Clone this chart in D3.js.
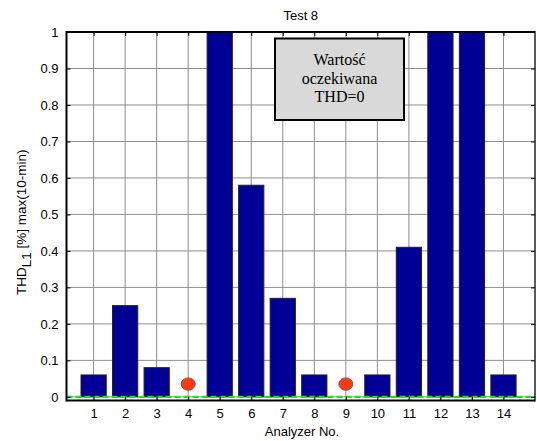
<!DOCTYPE html>
<html>
<head>
<meta charset="utf-8">
<script src="https://cdn.jsdelivr.net/npm/d3@7"></script>
<style>
  html, body { margin: 0; padding: 0; background: #fff; }
  svg { display: block; }
  text { font-family: "Liberation Sans", Arial, sans-serif; fill: #000; }
</style>
</head>
<body>
<svg id="chart" width="537" height="441"></svg>
<script>
// Analyzer numbers and the max 10-min THD (%) each one reported
const analyzers = [1, 2, 3, 4, 5, 6, 7, 8, 9, 10, 11, 12, 13, 14];
const thdValues = [0.06, 0.25, 0.08, null, 1.4, 0.58, 0.27, 0.06, null, 0.06, 0.41, 1.6, 1.3, 0.06];
// Analyzers that reported no result (marked with a dot)
const missingAnalyzers = [4, 9];
const missingMarkerValue = [0.035, 0.035];
// Expected value line
const expectedThd = 0;
const yTicks = [0, 0.1, 0.2, 0.3, 0.4, 0.5, 0.6, 0.7, 0.8, 0.9, 1];
const noteLines = ["Wartość", "oczekiwana", "THD=0"];

const svg = d3.select("#chart");
const pLeft = 66.5, pRight = 535, pTop = 32, pBottom = 400.5;

const x = d3.scaleLinear().domain([0.14, 15]).range([pLeft, pRight]);
const y = d3.scaleLinear().domain([-0.01, 1]).range([pBottom, pTop]);
const barW = x(0.8) - x(0);

const defs = svg.append("defs");
defs.append("clipPath").attr("id", "plotClip")
  .append("rect").attr("x", pLeft).attr("y", pTop).attr("width", pRight - pLeft).attr("height", pBottom - pTop);
defs.append("filter").attr("id", "soft").append("feGaussianBlur").attr("stdDeviation", 0.6);

// grid
const grid = svg.append("g");
grid.selectAll("line.gx").data(analyzers).join("line")
  .attr("x1", d => x(d)).attr("x2", d => x(d)).attr("y1", pTop).attr("y2", pBottom)
  .attr("stroke", "#8f8f8f").attr("stroke-width", 1);
grid.selectAll("line.gy").data(yTicks).join("line")
  .attr("x1", pLeft).attr("x2", pRight).attr("y1", d => y(d)).attr("y2", d => y(d))
  .attr("stroke", "#8f8f8f").attr("stroke-width", 1);

// bars
const plot = svg.append("g").attr("clip-path", "url(#plotClip)");
const barData = analyzers.map((a, i) => ({ a, v: thdValues[i] })).filter(d => d.v !== null);
plot.selectAll("rect.bar").data(barData).join("rect")
  .attr("class", "bar")
  .attr("x", d => x(d.a) - barW / 2)
  .attr("width", barW)
  .attr("y", d => y(d.v))
  .attr("height", d => y(0) - y(d.v))
  .attr("fill", "#000096")
  .attr("stroke", "#222")
  .attr("stroke-width", 1);

// expected value line
plot.append("line")
  .attr("x1", pLeft).attr("x2", pRight)
  .attr("y1", y(expectedThd)).attr("y2", y(expectedThd))
  .attr("stroke", "#19e619").attr("stroke-width", 2.2)
  .attr("stroke-dasharray", "6,3");

// markers for analyzers without a result
plot.selectAll("ellipse.miss").data(missingAnalyzers).join("ellipse")
  .attr("cx", d => x(d)).attr("cy", (d, i) => y(missingMarkerValue[i]))
  .attr("rx", 7).attr("ry", 6.2)
  .attr("fill", "#ff3a0a").attr("stroke", "#8a4a6a").attr("stroke-width", 1)
  .attr("filter", "url(#soft)");

// axes frame
const frame = svg.append("g");
frame.append("line").attr("x1", pLeft).attr("x2", pRight).attr("y1", pTop).attr("y2", pTop)
  .attr("stroke", "#000").attr("stroke-width", 2);
frame.append("line").attr("x1", pLeft).attr("x2", pRight).attr("y1", pBottom).attr("y2", pBottom)
  .attr("stroke", "#000").attr("stroke-width", 2);
frame.append("line").attr("x1", pLeft).attr("x2", pLeft).attr("y1", pTop - 1).attr("y2", pBottom + 1)
  .attr("stroke", "#000").attr("stroke-width", 2);
frame.append("line").attr("x1", pRight).attr("x2", pRight).attr("y1", pTop - 1).attr("y2", pBottom + 1)
  .attr("stroke", "#000").attr("stroke-width", 1.3);

// bottom axis
const xAxis = d3.axisBottom(x).tickValues(analyzers).tickSize(-4).tickPadding(8.5).tickFormat(d3.format("d"));
const gx = svg.append("g").attr("transform", `translate(0,${pBottom})`).call(xAxis);
gx.select(".domain").remove();
gx.selectAll("text").attr("font-size", 13).attr("font-family", "Liberation Sans, Arial, sans-serif");
gx.selectAll("line").attr("stroke", "#000");

// top ticks
const xTop = d3.axisTop(x).tickValues(analyzers).tickSize(-4).tickFormat("");
const gxt = svg.append("g").attr("transform", `translate(0,${pTop})`).call(xTop);
gxt.select(".domain").remove();

// left axis
const yAxis = d3.axisLeft(y).tickValues(yTicks).tickSize(-4).tickPadding(8).tickFormat(d => d3.format("")(d));
const gy = svg.append("g").attr("transform", `translate(${pLeft},0)`).call(yAxis);
gy.select(".domain").remove();
gy.selectAll("text").attr("font-size", 13).attr("font-family", "Liberation Sans, Arial, sans-serif");

// right ticks
const yRight = d3.axisRight(y).tickValues(yTicks).tickSize(-4).tickFormat("");
const gyr = svg.append("g").attr("transform", `translate(${pRight},0)`).call(yRight);
gyr.select(".domain").remove();

// note box
const boxX = 275, boxY = 38.5, boxW = 129, boxH = 81.5;
svg.append("rect").attr("x", boxX).attr("y", boxY).attr("width", boxW).attr("height", boxH)
  .attr("fill", "#d9d9d9").attr("stroke", "#000").attr("stroke-width", 2);
svg.append("g").selectAll("text").data(noteLines).join("text")
  .attr("x", boxX + boxW / 2).attr("y", (d, i) => 65 + i * 18.5)
  .attr("text-anchor", "middle")
  .style("font-family", "'Liberation Serif', 'Times New Roman', serif")
  .attr("font-size", 16)
  .text(d => d);

// title and axis labels
svg.append("text").attr("x", (pLeft + pRight) / 2).attr("y", 20).attr("text-anchor", "middle")
  .attr("font-size", 13).text("Test 8");
svg.append("text").attr("x", 302).attr("y", 435.5).attr("text-anchor", "middle")
  .attr("font-size", 13).text("Analyzer No.");
const yl = svg.append("text")
  .attr("transform", `translate(26,${(pTop + pBottom) / 2 + 6}) rotate(-90)`)
  .attr("text-anchor", "middle").attr("font-size", 13.5);
yl.append("tspan").text("THD");
yl.append("tspan").attr("dy", 5).text("L1");
yl.append("tspan").attr("dy", -5).text(" [%] max(10-min)");
</script>
</body>
</html>
